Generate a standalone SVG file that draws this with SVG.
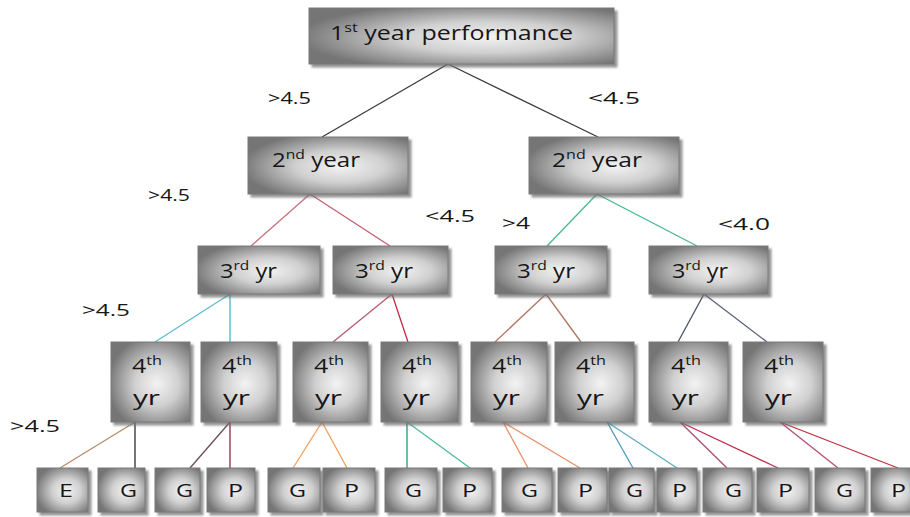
<svg xmlns="http://www.w3.org/2000/svg" width="910" height="517" viewBox="0 0 910 517">
  <defs>
    <radialGradient id="boxFill" cx="0.58" cy="0.52" r="0.62">
      <stop offset="0" stop-color="#f3f3f3"/>
      <stop offset="0.45" stop-color="#d0d0d0"/>
      <stop offset="1" stop-color="#747474"/>
    </radialGradient>
    <filter id="shadow" x="-10%" y="-10%" width="130%" height="130%">
      <feDropShadow dx="3" dy="3" stdDeviation="1.2" flood-color="#707070" flood-opacity="0.75"/>
    </filter>
  </defs>
  <style>
    .box { fill: url(#boxFill); stroke: #7a7a7a; stroke-width: 1; filter: url(#shadow); }
    .t { font-family: "Open Sans", "Liberation Sans", sans-serif; fill: #161616; }
    .big { font-size: 20px; }
    .leaf { font-size: 18px; }
    .lbl { font-family: "Open Sans", "Liberation Sans", sans-serif; fill: #161616; font-size: 17px; }
    .edge { fill: none; stroke-width: 1.3; }
  </style>
  <rect width="910" height="517" fill="#ffffff"/>

  <!-- connectors -->
  <g id="connectors">
    <line class="edge" x1="448" y1="64" x2="322" y2="137" stroke="#3a3a3a"/>
    <line class="edge" x1="448" y1="64" x2="598" y2="137" stroke="#3a3a3a"/>

    <line class="edge" x1="310" y1="194" x2="251" y2="246" stroke="#c8707a"/>
    <line class="edge" x1="310" y1="194" x2="390" y2="246" stroke="#c06070"/>
    <line class="edge" x1="597" y1="194" x2="547" y2="246" stroke="#45b890"/>
    <line class="edge" x1="597" y1="194" x2="697" y2="246" stroke="#45b890"/>

    <line class="edge" x1="230" y1="294" x2="155" y2="342" stroke="#5bbcd0"/>
    <line class="edge" x1="230" y1="294" x2="230" y2="342" stroke="#4cb4c8"/>
    <line class="edge" x1="392" y1="294" x2="333" y2="342" stroke="#b85a6a"/>
    <line class="edge" x1="392" y1="294" x2="408" y2="342" stroke="#c02a48"/>
    <line class="edge" x1="546" y1="294" x2="495" y2="342" stroke="#b07860"/>
    <line class="edge" x1="546" y1="294" x2="581" y2="342" stroke="#b07860"/>
    <line class="edge" x1="704" y1="294" x2="678" y2="342" stroke="#4a5068"/>
    <line class="edge" x1="704" y1="294" x2="767" y2="342" stroke="#5a607a"/>

    <line class="edge" x1="135" y1="422" x2="60" y2="468" stroke="#b88a6a"/>
    <line class="edge" x1="135" y1="422" x2="135" y2="468" stroke="#2e2e2e"/>
    <line class="edge" x1="230" y1="422" x2="190" y2="468" stroke="#6e4a5a"/>
    <line class="edge" x1="230" y1="422" x2="230" y2="468" stroke="#8a2a40"/>
    <line class="edge" x1="322" y1="422" x2="293" y2="468" stroke="#f0a060"/>
    <line class="edge" x1="322" y1="422" x2="347" y2="468" stroke="#f0a060"/>
    <line class="edge" x1="407" y1="422" x2="407" y2="468" stroke="#1f9a70"/>
    <line class="edge" x1="407" y1="422" x2="470" y2="468" stroke="#4dbba0"/>
    <line class="edge" x1="503" y1="422" x2="528" y2="468" stroke="#e8906a"/>
    <line class="edge" x1="503" y1="422" x2="580" y2="468" stroke="#e8906a"/>
    <line class="edge" x1="607" y1="422" x2="633" y2="468" stroke="#4a9ab8"/>
    <line class="edge" x1="607" y1="422" x2="677" y2="468" stroke="#5aaec0"/>
    <line class="edge" x1="680" y1="422" x2="727" y2="468" stroke="#a85070"/>
    <line class="edge" x1="680" y1="422" x2="778" y2="468" stroke="#c03050"/>
    <line class="edge" x1="780" y1="422" x2="838" y2="468" stroke="#b05070"/>
    <line class="edge" x1="780" y1="422" x2="898" y2="468" stroke="#c03040"/>
  </g>

  <!-- branch labels -->
  <g id="labels">
    <text class="lbl" x="268" y="104" textLength="43" lengthAdjust="spacingAndGlyphs">&gt;4.5</text>
    <text class="lbl" x="588" y="104" textLength="52" lengthAdjust="spacingAndGlyphs">&lt;4.5</text>
    <text class="lbl" x="148" y="201" font-size="13" textLength="42" lengthAdjust="spacingAndGlyphs">&gt;4.5</text>
    <text class="lbl" x="425" y="222" textLength="50" lengthAdjust="spacingAndGlyphs">&lt;4.5</text>
    <text class="lbl" x="502" y="229" textLength="28" lengthAdjust="spacingAndGlyphs">&gt;4</text>
    <text class="lbl" x="718" y="230" textLength="52" lengthAdjust="spacingAndGlyphs">&lt;4.0</text>
    <text class="lbl" x="82" y="316" textLength="48" lengthAdjust="spacingAndGlyphs">&gt;4.5</text>
    <text class="lbl" x="10" y="432" textLength="50" lengthAdjust="spacingAndGlyphs">&gt;4.5</text>
  </g>

  <!-- level 1 -->
  <g id="n-year1">
    <rect class="box" x="309" y="8" width="305" height="56"/>
    <text class="t big" x="330" y="40" textLength="243" lengthAdjust="spacingAndGlyphs">1<tspan font-size="13" dy="-8">st</tspan><tspan dy="8"> year performance</tspan></text>
  </g>

  <!-- level 2 -->
  <g id="n-year2-a">
    <rect class="box" x="248" y="137" width="160" height="57"/>
    <text class="t big" x="272" y="167" textLength="88" lengthAdjust="spacingAndGlyphs">2<tspan font-size="13" dy="-8">nd</tspan><tspan dy="8"> year</tspan></text>
  </g>
  <g id="n-year2-b">
    <rect class="box" x="529" y="137" width="150" height="57"/>
    <text class="t big" x="552" y="167" textLength="90" lengthAdjust="spacingAndGlyphs">2<tspan font-size="13" dy="-8">nd</tspan><tspan dy="8"> year</tspan></text>
  </g>

  <!-- level 3 -->
  <g id="n-year3-a">
    <rect class="box" x="198" y="246" width="122" height="48"/>
    <text class="t big" x="220" y="278" textLength="57" lengthAdjust="spacingAndGlyphs">3<tspan font-size="13" dy="-8">rd</tspan><tspan dy="8"> yr</tspan></text>
  </g>
  <g id="n-year3-b">
    <rect class="box" x="333" y="246" width="115" height="48"/>
    <text class="t big" x="355" y="278" textLength="58" lengthAdjust="spacingAndGlyphs">3<tspan font-size="13" dy="-8">rd</tspan><tspan dy="8"> yr</tspan></text>
  </g>
  <g id="n-year3-c">
    <rect class="box" x="495" y="246" width="112" height="48"/>
    <text class="t big" x="517" y="278" textLength="58" lengthAdjust="spacingAndGlyphs">3<tspan font-size="13" dy="-8">rd</tspan><tspan dy="8"> yr</tspan></text>
  </g>
  <g id="n-year3-d">
    <rect class="box" x="649" y="246" width="119" height="48"/>
    <text class="t big" x="672" y="278" textLength="56" lengthAdjust="spacingAndGlyphs">3<tspan font-size="13" dy="-8">rd</tspan><tspan dy="8"> yr</tspan></text>
  </g>

  <!-- level 4 -->
  <g id="n-year4-a">
    <rect class="box" x="111" y="342" width="79" height="80"/>
    <text class="t big" x="132" y="373" textLength="30" lengthAdjust="spacingAndGlyphs">4<tspan font-size="13" dy="-8">th</tspan></text>
    <text class="t big" x="133" y="405" textLength="27" lengthAdjust="spacingAndGlyphs">yr</text>
  </g>
  <g id="n-year4-b">
    <rect class="box" x="201" y="342" width="76" height="80"/>
    <text class="t big" x="222" y="373" textLength="30" lengthAdjust="spacingAndGlyphs">4<tspan font-size="13" dy="-8">th</tspan></text>
    <text class="t big" x="223" y="405" textLength="27" lengthAdjust="spacingAndGlyphs">yr</text>
  </g>
  <g id="n-year4-c">
    <rect class="box" x="293" y="342" width="75" height="80"/>
    <text class="t big" x="314" y="373" textLength="30" lengthAdjust="spacingAndGlyphs">4<tspan font-size="13" dy="-8">th</tspan></text>
    <text class="t big" x="315" y="405" textLength="27" lengthAdjust="spacingAndGlyphs">yr</text>
  </g>
  <g id="n-year4-d">
    <rect class="box" x="381" y="342" width="77" height="80"/>
    <text class="t big" x="402" y="373" textLength="30" lengthAdjust="spacingAndGlyphs">4<tspan font-size="13" dy="-8">th</tspan></text>
    <text class="t big" x="403" y="405" textLength="27" lengthAdjust="spacingAndGlyphs">yr</text>
  </g>
  <g id="n-year4-e">
    <rect class="box" x="471" y="342" width="76" height="80"/>
    <text class="t big" x="492" y="373" textLength="30" lengthAdjust="spacingAndGlyphs">4<tspan font-size="13" dy="-8">th</tspan></text>
    <text class="t big" x="493" y="405" textLength="27" lengthAdjust="spacingAndGlyphs">yr</text>
  </g>
  <g id="n-year4-f">
    <rect class="box" x="555" y="342" width="79" height="80"/>
    <text class="t big" x="576" y="373" textLength="30" lengthAdjust="spacingAndGlyphs">4<tspan font-size="13" dy="-8">th</tspan></text>
    <text class="t big" x="577" y="405" textLength="27" lengthAdjust="spacingAndGlyphs">yr</text>
  </g>
  <g id="n-year4-g">
    <rect class="box" x="649" y="342" width="79" height="80"/>
    <text class="t big" x="671" y="373" textLength="30" lengthAdjust="spacingAndGlyphs">4<tspan font-size="13" dy="-8">th</tspan></text>
    <text class="t big" x="672" y="405" textLength="27" lengthAdjust="spacingAndGlyphs">yr</text>
  </g>
  <g id="n-year4-h">
    <rect class="box" x="743" y="342" width="80" height="80"/>
    <text class="t big" x="764" y="373" textLength="30" lengthAdjust="spacingAndGlyphs">4<tspan font-size="13" dy="-8">th</tspan></text>
    <text class="t big" x="765" y="405" textLength="27" lengthAdjust="spacingAndGlyphs">yr</text>
  </g>

  <!-- outcomes -->
  <g id="o-1"><rect class="box" x="37" y="468" width="51" height="44"/><text class="t leaf" x="59" y="497" textLength="14" lengthAdjust="spacingAndGlyphs">E</text></g>
  <g id="o-2"><rect class="box" x="98" y="468" width="47" height="44"/><text class="t leaf" x="120" y="497" textLength="17" lengthAdjust="spacingAndGlyphs">G</text></g>
  <g id="o-3"><rect class="box" x="155" y="468" width="45" height="44"/><text class="t leaf" x="176" y="497" textLength="17" lengthAdjust="spacingAndGlyphs">G</text></g>
  <g id="o-4"><rect class="box" x="207" y="468" width="48" height="44"/><text class="t leaf" x="228" y="497" textLength="15" lengthAdjust="spacingAndGlyphs">P</text></g>
  <g id="o-5"><rect class="box" x="268" y="468" width="52" height="44"/><text class="t leaf" x="289" y="497" textLength="17" lengthAdjust="spacingAndGlyphs">G</text></g>
  <g id="o-6"><rect class="box" x="323" y="468" width="52" height="44"/><text class="t leaf" x="344" y="497" textLength="15" lengthAdjust="spacingAndGlyphs">P</text></g>
  <g id="o-7"><rect class="box" x="385" y="468" width="52" height="44"/><text class="t leaf" x="405" y="497" textLength="17" lengthAdjust="spacingAndGlyphs">G</text></g>
  <g id="o-8"><rect class="box" x="443" y="468" width="49" height="44"/><text class="t leaf" x="462" y="497" textLength="15" lengthAdjust="spacingAndGlyphs">P</text></g>
  <g id="o-9"><rect class="box" x="502" y="468" width="50" height="44"/><text class="t leaf" x="521" y="497" textLength="17" lengthAdjust="spacingAndGlyphs">G</text></g>
  <g id="o-10"><rect class="box" x="558" y="468" width="49" height="44"/><text class="t leaf" x="578" y="497" textLength="15" lengthAdjust="spacingAndGlyphs">P</text></g>
  <g id="o-11"><rect class="box" x="609" y="468" width="45" height="44"/><text class="t leaf" x="626" y="497" textLength="17" lengthAdjust="spacingAndGlyphs">G</text></g>
  <g id="o-12"><rect class="box" x="657" y="468" width="40" height="44"/><text class="t leaf" x="672" y="497" textLength="15" lengthAdjust="spacingAndGlyphs">P</text></g>
  <g id="o-13"><rect class="box" x="703" y="468" width="49" height="44"/><text class="t leaf" x="725" y="497" textLength="17" lengthAdjust="spacingAndGlyphs">G</text></g>
  <g id="o-14"><rect class="box" x="757" y="468" width="52" height="44"/><text class="t leaf" x="778" y="497" textLength="15" lengthAdjust="spacingAndGlyphs">P</text></g>
  <g id="o-15"><rect class="box" x="815" y="468" width="50" height="44"/><text class="t leaf" x="836" y="497" textLength="17" lengthAdjust="spacingAndGlyphs">G</text></g>
  <g id="o-16"><rect class="box" x="871" y="468" width="44" height="44"/><text class="t leaf" x="891" y="497" textLength="15" lengthAdjust="spacingAndGlyphs">P</text></g>
</svg>
